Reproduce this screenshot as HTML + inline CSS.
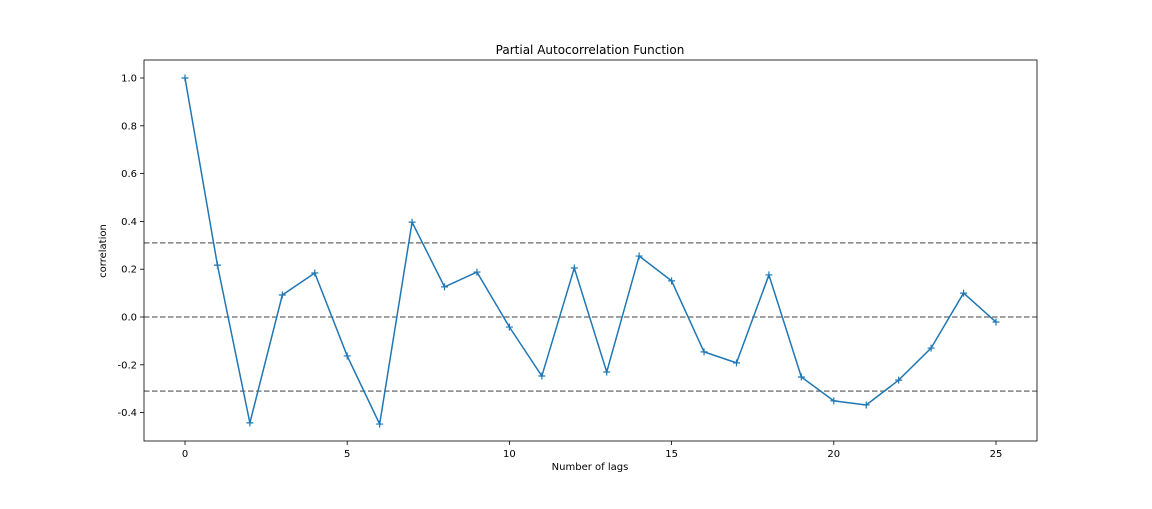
<!DOCTYPE html>
<html><head><meta charset="utf-8"><style>
body{margin:0;background:#fff;}
svg text{font-family:"DejaVu Sans","Liberation Sans",sans-serif;fill:#000;}
</style></head><body>
<svg id="chart" width="1152" height="504" xmlns="http://www.w3.org/2000/svg">
<rect width="1152" height="504" fill="#fff"/>
<g id="plot"></g>
</svg>
<script>
const lags=[0,1,2,3,4,5,6,7,8,9,10,11,12,13,14,15,16,17,18,19,20,21,22,23,24,25];
const pacf=[1.0,0.217,-0.443,0.092,0.184,-0.163,-0.448,0.397,0.126,0.188,-0.042,-0.247,0.205,-0.230,0.255,0.151,-0.146,-0.192,0.176,-0.251,-0.351,-0.368,-0.264,-0.130,0.100,-0.021];
const refLines=[0.31,0,-0.31];
const xTicks=[0,5,10,15,20,25];
const yTicks=[-0.4,-0.2,0.0,0.2,0.4,0.6,0.8,1.0];
const L=144,R=1037,T=60,B=441;
const x=v=>185+v*32.44;
const y=v=>317-v*239;
const NS="http://www.w3.org/2000/svg";
const g=document.getElementById('plot');
function mk(t,a,p){const e=document.createElementNS(NS,t);for(const k in a)e.setAttribute(k,a[k]);(p||g).appendChild(e);return e;}
refLines.forEach((r,i)=>{const e=mk('line',{x1:L,x2:R,y1:y(r),y2:y(r),stroke:'#808080','stroke-width':1.5,'stroke-dasharray':'5.5,2.5'});

});
const pts=lags.map((l,i)=>x(l)+','+y(pacf[i])).join(' ');
const pl=mk('polyline',{points:pts,fill:'none',stroke:'#1f77b4','stroke-width':1.5});


lags.forEach((l,i)=>{const px=x(l),py=y(pacf[i]);
const m=mk('path',{d:`M${px-3.5},${py}H${px+3.5}M${px},${py-3.5}V${py+3.5}`,stroke:'#1f77b4','stroke-width':1.2});

});
const fr=mk('rect',{x:L,y:T,width:R-L,height:B-T,fill:'none',stroke:'#000','stroke-width':0.8});


xTicks.forEach(t=>{mk('line',{x1:x(t),x2:x(t),y1:B,y2:B+4,stroke:'#000','stroke-width':0.8});
const tx=mk('text',{x:x(t),y:B+16,'text-anchor':'middle','font-size':10});tx.textContent=t;

});
yTicks.forEach(t=>{mk('line',{x1:L-4,x2:L,y1:y(t),y2:y(t),stroke:'#000','stroke-width':0.8});
const tx=mk('text',{x:L-7,y:y(t)+3.5,'text-anchor':'end','font-size':10});tx.textContent=t.toFixed(1);

});
</script>
<svg style="position:absolute;left:0;top:0" width="1152" height="504" xmlns="http://www.w3.org/2000/svg">
<text x="590" y="54" text-anchor="middle" font-size="12">Partial Autocorrelation Function</text>
<text x="590" y="470" text-anchor="middle" font-size="10">Number of lags</text>
<text x="106" y="251" text-anchor="middle" font-size="10" transform="rotate(-90 106 251)">correlation</text>
</svg>
</body></html>
